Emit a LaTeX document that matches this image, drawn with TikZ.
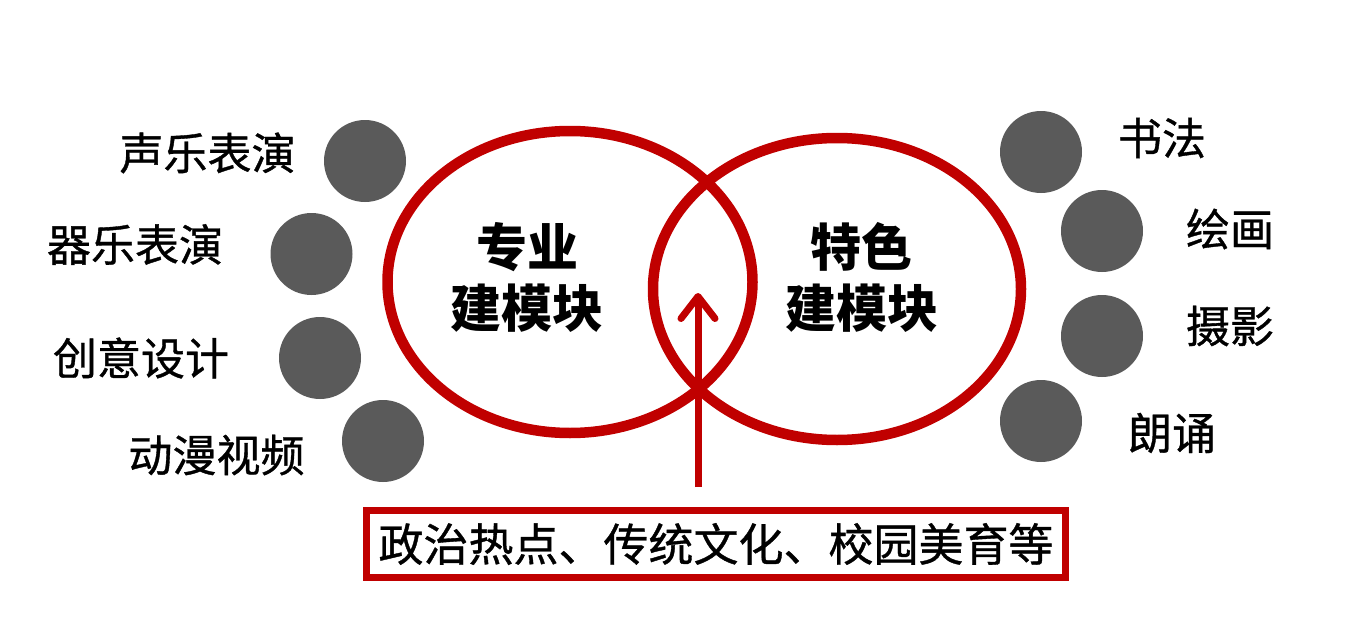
\documentclass[tikz,border=0pt]{standalone}
\usepackage{fontspec}
\setmainfont{Noto Sans CJK SC}
\newfontfamily\labfont{Noto Sans CJK SC}[FakeBold=0.8]
\usetikzlibrary{shapes.geometric,arrows.meta}
\definecolor{redc}{HTML}{C00000}
\definecolor{dotgray}{HTML}{5A5A5A}
\tikzset{
  dot/.style={circle, fill=dotgray, minimum size=82pt, inner sep=0pt},
  venn/.style={ellipse, draw=redc, line width=10.5pt, inner sep=0pt},
  lab/.style={inner sep=0pt, font=\labfont\fontsize{44}{50}\selectfont},
  core/.style={inner sep=0pt, align=center, font=\fontsize{51}{61}\selectfont\bfseries},
  topicbox/.style={draw=redc, line width=7pt, minimum width=699pt, minimum height=67pt, inner sep=0pt, font=\labfont\fontsize{45}{50}\selectfont}
}
\begin{document}
\begin{tikzpicture}[x=1pt,y=-1pt]
\useasboundingbox (0,0) rectangle (1353,629);
% ellipses
\node[venn, minimum width=365pt, minimum height=302pt] (left) at (570,282) {};
\node[venn, minimum width=368pt, minimum height=302pt] (right) at (837,289) {};
% core texts
\node[core] (lt) at (527,277) {专业\\建模块};
\node[core] (rt) at (861.5,277) {特色\\建模块};
% left dots
\node[dot] (l1) at (365,161) {};
\node[dot] (l2) at (311.5,254) {};
\node[dot] (l3) at (320,358) {};
\node[dot] (l4) at (383,441) {};
% right dots
\node[dot] (r1) at (1041,152) {};
\node[dot] (r2) at (1102,231) {};
\node[dot] (r3) at (1102,336) {};
\node[dot] (r4) at (1041,421) {};
% left labels
\node[lab] (lt1) at (207.5,153) {声乐表演};
\node[lab] (lt2) at (135,244.5) {器乐表演};
\node[lab] (lt3) at (141,358) {创意设计};
\node[lab] (lt4) at (216.5,455) {动漫视频};
% right labels
\node[lab] (rt1) at (1162,138) {书法};
\node[lab] (rt2) at (1230,229) {绘画};
\node[lab] (rt3) at (1230,326) {摄影};
\node[lab] (rt4) at (1172,433) {朗诵};
% bottom box
\node[topicbox] (box) at (716,544) {政治热点、传统文化、校园美育等};
% arrow
\coordinate (tip) at (698,293);
\coordinate (tail) at (698,487);
\draw[redc, line width=7pt, -{Straight Barb[round, length=22pt, width=34pt]}] (tail) -- (tip);
\end{tikzpicture}
\end{document}
